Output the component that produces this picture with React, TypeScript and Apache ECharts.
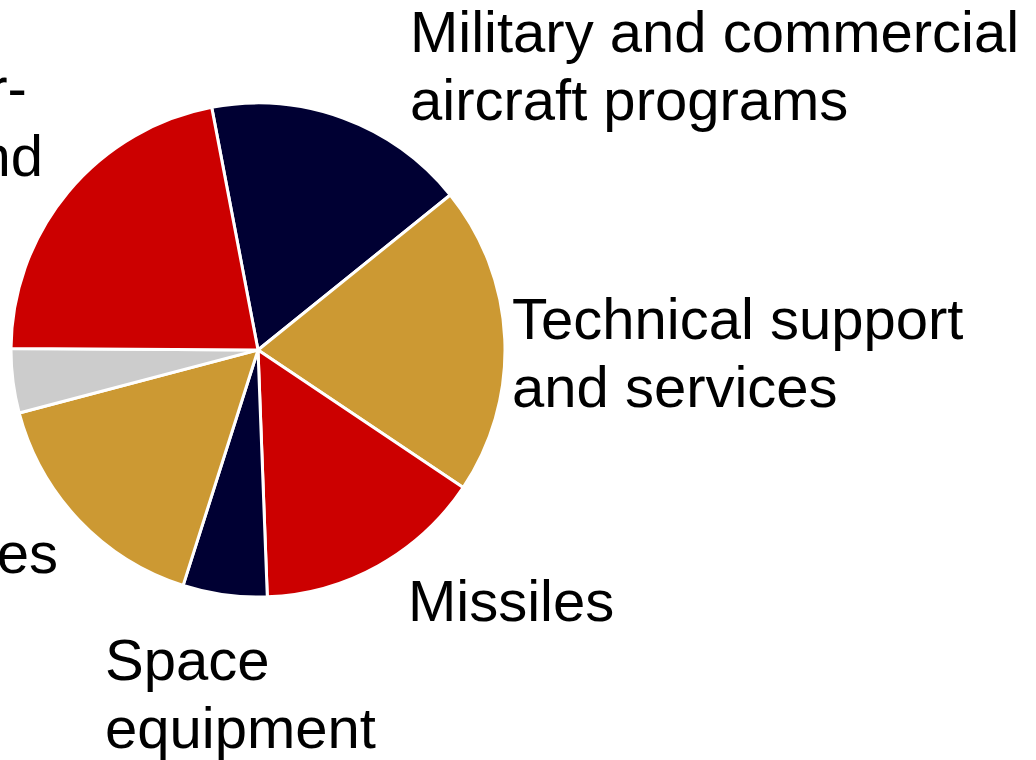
import React, { useEffect, useRef } from "react";
import * as echarts from "echarts";

const categories = [
  "Military and commercial\naircraft programs",
  "Technical support\nand services",
  "Missiles",
  "Space\nequipment",
  "Combat vehicles",
  "Other",
  "Command, control, computer- \ncommunications and",
];
const shares = [17.2, 20.2, 15.0, 5.5, 16.0, 4.2, 21.9];
const sliceColors = ["#000033", "#CC9933", "#CC0000", "#000033", "#CC9933", "#CCCCCC", "#CC0000"];
const labelPos = [
  { x: 410, y: 65, align: "left" },
  { x: 512, y: 352, align: "left" },
  { x: 408, y: 600, align: "left" },
  { x: 105, y: 693, align: "left" },
  { x: 58, y: 552, align: "right" },
  { x: -30, y: 385, align: "right" },
  { x: 43, y: 121, align: "right" },
];

export default function App() {
  const ref = useRef<HTMLDivElement>(null);
  useEffect(() => {
    if (!ref.current) return;
    const chart = echarts.init(ref.current, undefined, { renderer: "svg" });
    chart.setOption({
      animation: false,
      backgroundColor: "#ffffff",
      series: [
        {
          type: "pie",
          center: [258, 350],
          radius: [0, 247],
          startAngle: 100.8,
          clockwise: true,
          avoidLabelOverlap: false,
          minShowLabelAngle: 0,
          itemStyle: { borderColor: "#ffffff", borderWidth: 3 },
          label: {
            show: true,
            position: "outside",
            formatter: "{b}",
            color: "#000000",
            fontFamily: "Liberation Sans, Arial, sans-serif",
            fontSize: 58,
            lineHeight: 68,
          },
          labelLine: { show: false },
          emphasis: { disabled: true },
          labelLayout: (params: any) => {
            const p = labelPos[params.dataIndex];
            return { x: p.x, y: p.y, align: p.align, verticalAlign: "middle", hideOverlap: false };
          },
          data: categories.map((name, i) => ({
            name,
            value: shares[i],
            itemStyle: { color: sliceColors[i] },
          })),
        },
      ],
    });
    return () => chart.dispose();
  }, []);
  return (
    <div
      ref={ref}
      style={{ position: "fixed", left: 0, top: 0, width: 1036, height: 760, background: "#fff" }}
    />
  );
}
